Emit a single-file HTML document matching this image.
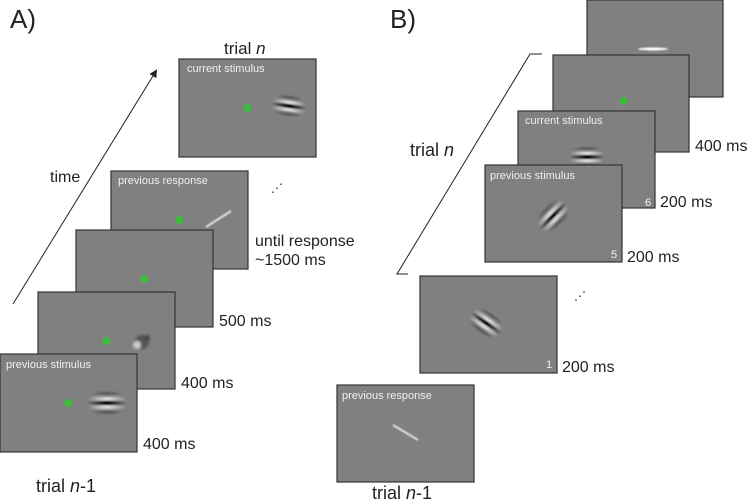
<!DOCTYPE html>
<html><head><meta charset="utf-8"><style>
html,body{margin:0;padding:0;background:#fff;width:750px;height:501px;overflow:hidden}
svg{display:block}
text{font-family:"Liberation Sans",Arial,sans-serif}
.f{fill:#808080;stroke:#333;stroke-width:1.2}
.lbl{fill:#f0f0f0;font-size:11px}
.t{fill:#222;font-size:16px}
.dot{fill:#3dbb3d}
</style></head><body>
<svg width="750" height="501" viewBox="0 0 750 501" xmlns="http://www.w3.org/2000/svg">
<defs>
<filter id="b1" x="-50%" y="-50%" width="200%" height="200%"><feGaussianBlur stdDeviation="1.2"/></filter>
<filter id="b2" x="-50%" y="-50%" width="200%" height="200%"><feGaussianBlur stdDeviation="0.8"/></filter>
<radialGradient id="env"><stop offset="0" stop-color="#fff" stop-opacity="1"/><stop offset="1" stop-color="#fff" stop-opacity="0"/></radialGradient>
<mask id="m"><rect x="-30" y="-30" width="60" height="60" fill="black"/><ellipse cx="0" cy="0" rx="22" ry="16" fill="url(#env)"/></mask>
<g id="gab">
 <g mask="url(#m)" filter="url(#b2)">
  <rect x="-24" y="-13" width="48" height="3.5" fill="#111"/>
  <rect x="-24" y="-7" width="48" height="4" fill="#fff"/>
  <rect x="-24" y="-2" width="48" height="4" fill="#000"/>
  <rect x="-24" y="3" width="48" height="4" fill="#fff"/>
  <rect x="-24" y="9" width="48" height="3.5" fill="#111"/>
 </g>
</g>
<marker id="ah" markerWidth="8" markerHeight="8" refX="6" refY="4" orient="auto"><path d="M0,0 L8,4 L0,8 z" fill="#222"/></marker>
</defs>

<!-- Panel A -->
<text x="10" y="28" font-size="26" fill="#222">A)</text>
<line x1="13" y1="304" x2="156" y2="71" stroke="#222" stroke-width="1" marker-end="url(#ah)"/>
<text x="50" y="182" class="t">time</text>

<text x="224" y="54" font-size="17" fill="#222">trial <tspan font-style="italic">n</tspan></text>
<rect x="179" y="59" width="137" height="98" class="f"/>
<text x="187" y="72" class="lbl">current stimulus</text>
<circle cx="247" cy="108" r="4" class="dot"/>
<use href="#gab" transform="translate(289,106) rotate(8) scale(0.8)"/>

<text x="271" y="192" font-size="12" fill="#222">⋰</text>

<rect x="111" y="171" width="137" height="98" class="f"/>
<text x="118" y="184" class="lbl">previous response</text>
<circle cx="179" cy="220" r="4" class="dot"/>
<line x1="206" y1="227" x2="231" y2="211" stroke="#eee" stroke-width="1.8" filter="url(#b2)"/>
<text x="255" y="246" class="t">until response</text>
<text x="255" y="265" class="t">~1500 ms</text>

<rect x="76" y="230" width="137" height="97" class="f"/>
<circle cx="144" cy="279" r="4" class="dot"/>
<text x="219" y="326" class="t">500 ms</text>

<rect x="38" y="292" width="137" height="97" class="f"/>
<circle cx="106" cy="341" r="4" class="dot"/>
<g filter="url(#b1)"><circle cx="142" cy="342" r="7" fill="#555"/><circle cx="137" cy="345" r="4" fill="#ccc"/><circle cx="147" cy="338" r="3" fill="#444"/></g>
<text x="181" y="388" class="t">400 ms</text>

<rect x="0" y="354" width="137" height="98" class="f"/>
<text x="6" y="368" class="lbl">previous stimulus</text>
<circle cx="68" cy="403" r="4" class="dot"/>
<use href="#gab" transform="translate(107,403) scale(0.9)"/>
<text x="143" y="449" class="t">400 ms</text>
<text x="36" y="492" font-size="18" fill="#222">trial <tspan font-style="italic">n</tspan>-1</text>

<!-- Panel B -->
<text x="390" y="28" font-size="26" fill="#222">B)</text>
<polyline points="542,54 530,54 397,274 408,274" fill="none" stroke="#222" stroke-width="1"/>
<text x="410" y="156" font-size="18" fill="#222">trial <tspan font-style="italic">n</tspan></text>

<rect x="587" y="0" width="136" height="97" class="f"/>
<ellipse cx="653" cy="49" rx="15" ry="1.5" fill="#fff" filter="url(#b2)"/>

<rect x="553" y="55" width="136" height="97" class="f"/>
<circle cx="623" cy="101" r="4" class="dot"/>
<text x="695" y="151" class="t">400 ms</text>

<rect x="518" y="111" width="137" height="97" class="f"/>
<text x="525" y="124" class="lbl">current stimulus</text>
<use href="#gab" transform="translate(587,157) scale(0.8)"/>
<text x="660" y="207" class="t">200 ms</text>

<rect x="485" y="165" width="137" height="97" class="f"/>
<text x="490" y="179" class="lbl">previous stimulus</text>
<use href="#gab" transform="translate(553,216) rotate(-45) scale(0.85)"/>
<text x="645" y="206" class="lbl">6</text>
<text x="611" y="258" class="lbl">5</text>
<text x="627" y="262" class="t">200 ms</text>

<text x="574" y="300" font-size="12" fill="#222">⋰</text>
<rect x="420" y="276" width="137" height="97" class="f"/>
<use href="#gab" transform="translate(486,323) rotate(35) scale(0.85)"/>
<text x="546" y="368" class="lbl">1</text>
<text x="562" y="372" class="t">200 ms</text>

<rect x="337" y="385" width="137" height="97" class="f"/>
<text x="342" y="399" class="lbl">previous response</text>
<line x1="393" y1="425" x2="418" y2="440" stroke="#eee" stroke-width="1.8" filter="url(#b2)"/>
<text x="372" y="499" font-size="18" fill="#222">trial <tspan font-style="italic">n</tspan>-1</text>
</svg>
</body></html>
